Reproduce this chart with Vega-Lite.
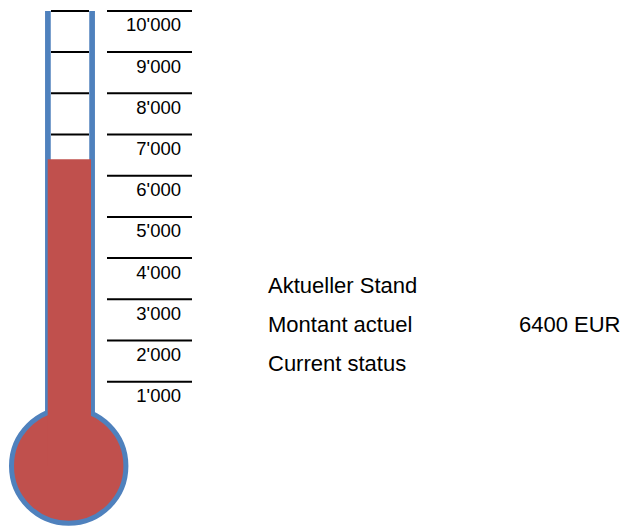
{
  "$schema": "https://vega.github.io/schema/vega-lite/v6.json",
  "width": 630,
  "height": 527,
  "autosize": {"type": "none"},
  "padding": 0,
  "background": "white",
  "config": {"view": {"stroke": null}, "font": "Liberation Sans"},
  "datasets": {
    "bulb": [{"x": 68.7, "v": -1046}],
    "tube": [{"x": 47.9, "top": 10000, "bottom": 250}, {"x": 92.1, "top": 10000, "bottom": 250}],
    "ticks": [
      {"v": 1000, "label": "1'000"}, {"v": 2000, "label": "2'000"}, {"v": 3000, "label": "3'000"},
      {"v": 4000, "label": "4'000"}, {"v": 5000, "label": "5'000"}, {"v": 6000, "label": "6'000"},
      {"v": 7000, "label": "7'000"}, {"v": 8000, "label": "8'000"}, {"v": 9000, "label": "9'000"},
      {"v": 10000, "label": "10'000"}
    ],
    "level": [{"x1": 47.7, "x2": 91, "amount": 6400, "base": -1046}],
    "notes": [
      {"x": 268, "v": 3323, "text": "Aktueller Stand"},
      {"x": 268, "v": 2376, "text": "Montant actuel"},
      {"x": 268, "v": 1430, "text": "Current status"},
      {"x": 519, "v": 2376, "text": "6400 EUR"}
    ]
  },
  "layer": [
    {
      "data": {"name": "bulb"},
      "mark": {"type": "point", "shape": "circle", "filled": true, "fill": "#C0504D", "stroke": "#4F81BD", "strokeWidth": 5, "opacity": 1, "size": 13087},
      "encoding": {
        "x": {"field": "x", "type": "quantitative", "scale": {"domain": [0, 630], "nice": false, "zero": false}, "axis": null},
        "y": {"field": "v", "type": "quantitative", "scale": {"domain": [-2527, 10265], "nice": false, "zero": false}, "axis": null}
      }
    },
    {
      "data": {"name": "tube"},
      "mark": {"type": "rule", "color": "#4F81BD", "strokeWidth": 5.7},
      "encoding": {
        "x": {"field": "x", "type": "quantitative"},
        "y": {"field": "top", "type": "quantitative"},
        "y2": {"field": "bottom"}
      }
    },
    {
      "data": {"name": "ticks"},
      "mark": {"type": "rule", "color": "black", "strokeWidth": 2},
      "encoding": {
        "x": {"datum": 51},
        "x2": {"datum": 89},
        "y": {"field": "v", "type": "quantitative"}
      }
    },
    {
      "data": {"name": "level"},
      "mark": {"type": "rect", "color": "#C0504D"},
      "encoding": {
        "x": {"field": "x1", "type": "quantitative"},
        "x2": {"field": "x2"},
        "y": {"field": "amount", "type": "quantitative"},
        "y2": {"field": "base"}
      }
    },
    {
      "data": {"name": "ticks"},
      "mark": {"type": "rule", "color": "black", "strokeWidth": 2},
      "encoding": {
        "x": {"datum": 107},
        "x2": {"datum": 192},
        "y": {"field": "v", "type": "quantitative"}
      }
    },
    {
      "data": {"name": "ticks"},
      "mark": {"type": "text", "align": "right", "baseline": "middle", "dy": 14.5, "fontSize": 18.5, "color": "black"},
      "encoding": {
        "x": {"datum": 181},
        "y": {"field": "v", "type": "quantitative"},
        "text": {"field": "label"}
      }
    },
    {
      "data": {"name": "notes"},
      "mark": {"type": "text", "align": "left", "baseline": "middle", "fontSize": 22, "color": "black"},
      "encoding": {
        "x": {"field": "x", "type": "quantitative"},
        "y": {"field": "v", "type": "quantitative"},
        "text": {"field": "text"}
      }
    }
  ]
}
